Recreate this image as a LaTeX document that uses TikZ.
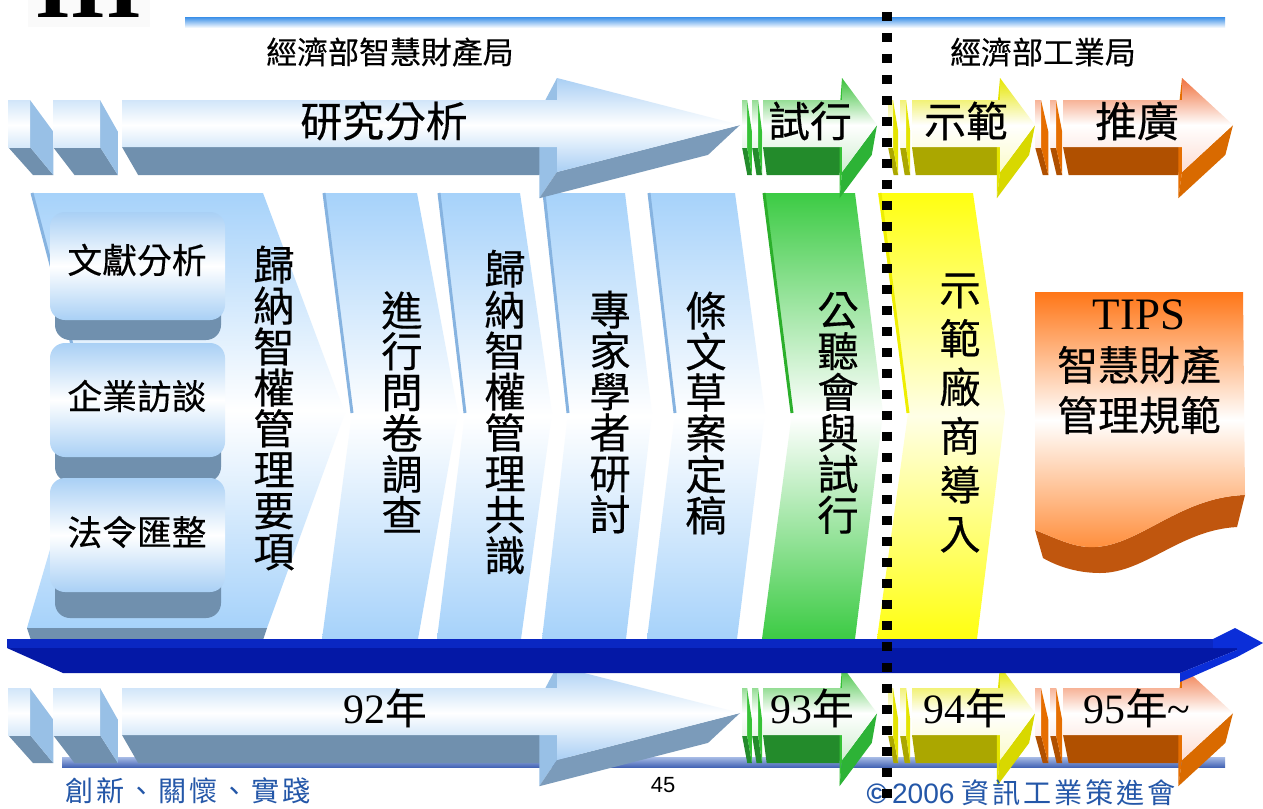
\documentclass[tikz,border=0pt]{standalone}
\usepackage{fontspec}
\setmainfont{Liberation Serif}
\newfontfamily\cjk{Noto Sans CJK TC}[FakeBold=0.35]
\newfontfamily\cjkspaced{Noto Sans CJK TC}[LetterSpace=10]
\newfontfamily\arialfont{Liberation Sans}
\usepackage{xcolor}
\usepackage{tikz}
\usetikzlibrary{calc}

\definecolor{skyblue}{HTML}{A9CFF4}
\definecolor{slate}{HTML}{7090AE}
\definecolor{slateside}{HTML}{98C0E6}
\definecolor{slatetip}{HTML}{7B9BBA}
\definecolor{leaf}{HTML}{38C038}
\definecolor{leafpale}{HTML}{D0EED0}
\definecolor{leafdark}{HTML}{238B2B}
\definecolor{leafside}{HTML}{36C236}
\definecolor{leaftip}{HTML}{2DB336}
\definecolor{lemon}{HTML}{E6E600}
\definecolor{lemonpale}{HTML}{FBFBC8}
\definecolor{lemondark}{HTML}{ABA700}
\definecolor{lemonside}{HTML}{E4E400}
\definecolor{lemontip}{HTML}{D8D800}
\definecolor{coral}{HTML}{F0703C}
\definecolor{coralpale}{HTML}{FDDCD2}
\definecolor{coraldark}{HTML}{B05000}
\definecolor{coralside}{HTML}{E66E00}
\definecolor{coraltip}{HTML}{D96A00}
\definecolor{chevsky}{HTML}{A6D2FA}
\definecolor{chevleaf}{HTML}{3CCB44}
\definecolor{chevlemon}{HTML}{FFFF10}
\definecolor{lemonwhite}{HTML}{FFFFE6}
\definecolor{boxsky}{HTML}{A9D0F5}
\definecolor{edgeblue}{HTML}{86B3E0}
\definecolor{edgegreen}{HTML}{2BAF2B}
\definecolor{edgeyellow}{HTML}{EEEE00}
\definecolor{tipsorange}{HTML}{FF7617}
\definecolor{tipsorangeb}{HTML}{FF8E3C}
\definecolor{tipsdark}{HTML}{C0560E}
\definecolor{bardark}{HTML}{0418A6}
\definecolor{barmid}{HTML}{0A27C2}
\definecolor{barbright}{HTML}{0B2ED8}
\definecolor{rulblue}{HTML}{3A8FE8}
\definecolor{footblue}{HTML}{4565B5}
\definecolor{footlight}{HTML}{A8BCE6}
\definecolor{mottoblue}{HTML}{2457A8}

\tikzset{
  bluefront/.style={top color=skyblue, bottom color=skyblue, middle color=white},
  bluedark/.style={fill=slate},
  blueside/.style={fill=slateside},
  bluetip/.style={fill=slatetip},
  greenfront/.style={top color=leaf, bottom color=leafpale, middle color=white},
  greendark/.style={fill=leafdark},
  greenside/.style={fill=leafside},
  greentip/.style={fill=leaftip},
  yellowfront/.style={top color=lemon, bottom color=lemonpale, middle color=white},
  yellowdark/.style={fill=lemondark},
  yellowside/.style={fill=lemonside},
  yellowtip/.style={fill=lemontip},
  orangefront/.style={top color=coral, bottom color=coralpale, middle color=white},
  orangedark/.style={fill=coraldark},
  orangeside/.style={fill=coralside},
  orangetip/.style={fill=coraltip},
  chevblue/.style={top color=chevsky, bottom color=chevsky, middle color=white},
  chevgreen/.style={top color=chevleaf, bottom color=chevleaf, middle color=white},
  chevyellow/.style={top color=chevlemon, bottom color=chevlemon, middle color=lemonwhite},
  chevedge/.style={line width=0.06cm},
  boxface/.style={rounded corners=0.3cm, top color=boxsky, bottom color=boxsky, middle color=white},
  boxdark/.style={rounded corners=0.3cm, fill=slate},
  vtext/.style={align=center, inner sep=0, font=\cjk\fontsize{23.5}{23.3}\selectfont},
  rowlabel/.style={inner sep=0, font=\cjk\fontsize{23.8}{24}\selectfont},
  agency/.style={inner sep=0, font=\cjk\fontsize{17.6}{18}\selectfont},
  boxlabel/.style={inner sep=0, font=\cjk\fontsize{19.8}{20}\selectfont},
}

% one slice of a 3D arrow: left x, right x, vanishing x, colour family
\newcommand{\slab}[4]{%
  \coordinate (vp) at (#3,508);
  \fill[#4dark] (#1,147) -- (#2,147) -- ($(#2,147)!0.078!(vp)$) -- ($(#1,147)!0.078!(vp)$) -- cycle;
  \fill[#4side] (#2,100) -- (#2,147) -- ($(#2,147)!0.078!(vp)$) -- ($(#2,100)!0.078!(vp)$) -- cycle;
  \begin{scope}
    \clip (#1,100) rectangle (#2,147);
    \shade[#4front] (#1,78) rectangle (#2,172);
  \end{scope}
}

% 3D arrow: left x, head x, tip x, vanishing x, colour family
\newcommand{\bigarrow}[5]{%
  \coordinate (vp) at (#4,508);
  \fill[#5dark] (#1,147) -- (#2,147) -- ($(#2,147)!0.078!(vp)$) -- ($(#1,147)!0.078!(vp)$) -- cycle;
  \fill[#5side] (#2,78) -- (#2,172) -- ($(#2,172)!0.078!(vp)$) -- ($(#2,78)!0.078!(vp)$) -- cycle;
  \fill[#5tip] (#2,172) -- (#3,125) -- ($(#3,125)!0.078!(vp)$) -- ($(#2,172)!0.078!(vp)$) -- cycle;
  \shade[#5front] (#1,100) -- (#2,100) -- (#2,78) -- (#3,125) -- (#2,172) -- (#2,147) -- (#1,147) -- cycle;
}

% the row of phase arrows
\newcommand{\arrowrow}{%
  \slab{8}{30}{330}{blue}
  \slab{53}{100}{330}{blue}
  \bigarrow{122}{557}{740}{330}{blue}
  \slab{742}{747}{810}{green}
  \slab{752}{758}{810}{green}
  \bigarrow{763}{842}{877}{810}{green}
  \slab{888}{893}{960}{yellow}
  \slab{900}{906}{960}{yellow}
  \bigarrow{912}{1000}{1035}{960}{yellow}
  \slab{1035}{1041}{1135}{orange}
  \slab{1050}{1056}{1135}{orange}
  \bigarrow{1063}{1182}{1233}{1135}{orange}
}

\begin{document}
\begin{tikzpicture}[x=0.02cm, y=-0.02cm]
\useasboundingbox (0,0) rectangle (1263,808);
\fill[white] (0,0) rectangle (1263,808);

% Corner numeral
\fill[black!2] (28,0) rectangle (150,27);
\node[anchor=base west, inner sep=0, font=\bfseries\fontsize{52}{52}\selectfont] (roman) at (35,17) {III};

% Top rule and agencies
\shade[top color=rulblue, bottom color=white] (185,17) rectangle (1225,28);
\node[agency] (ipo) at (390,52) {經濟部智慧財產局};
\node[agency] (idb) at (1043,52) {經濟部工業局};

% Process chevrons
\shade[chevblue] (32,193) -- (263,193) -- (345,413) -- (267,628) -- (27,628) -- (90,413) -- cycle;
\fill[slate] (27,628) -- (267,628) -- (263,640) -- (31,640) -- cycle;
\draw[chevedge, edgeblue] (32,193) -- (90,413);
\shade[chevblue] (323,193) -- (417,193) -- (458,413) -- (418,639) -- (322,639) -- (352,413) -- cycle;
\draw[chevedge, edgeblue] (324,193) -- (352,413);
\shade[chevblue] (438,193) -- (520,193) -- (552,413) -- (521,639) -- (437,639) -- (465,413) -- cycle;
\draw[chevedge, edgeblue] (439,193) -- (465,413);
\shade[chevblue] (543,193) -- (625,193) -- (652,413) -- (626,639) -- (542,639) -- (568,413) -- cycle;
\draw[chevedge, edgeblue] (544,193) -- (568,413);
\shade[chevblue] (648,193) -- (735,193) -- (765,413) -- (737,639) -- (647,639) -- (675,413) -- cycle;
\draw[chevedge, edgeblue] (649,193) -- (675,413);
\shade[chevgreen] (763,193) -- (855,193) -- (883,413) -- (855,639) -- (762,639) -- (792,413) -- cycle;
\draw[chevedge, edgegreen] (764,193) -- (792,413);
\shade[chevyellow] (878,193) -- (973,193) -- (1005,413) -- (977,639) -- (877,639) -- (908,413) -- cycle;
\draw[chevedge, edgeyellow] (880,193) -- (908,413);

% Source boxes
\fill[boxdark] (55,290) rectangle (221,340);
\shade[boxface] (50,212) rectangle (225,320);
\node[boxlabel] (lit) at (137,260) {文獻分析};
\fill[boxdark] (55,430) rectangle (221,482);
\shade[boxface] (50,343) rectangle (225,457);
\node[boxlabel] (visit) at (137,396) {企業訪談};
\fill[boxdark] (55,565) rectangle (221,618);
\shade[boxface] (50,478) rectangle (225,592);
\node[boxlabel] (law) at (137,532) {法令匯整};

% Step texts
\node[vtext] (items) at (274,408) {歸\\納\\智\\權\\管\\理\\要\\項};
\node[vtext] (survey) at (402,412) {進\\行\\問\\卷\\調\\查};
\node[vtext] (consensus) at (505,412) {歸\\納\\智\\權\\管\\理\\共\\識};
\node[vtext] (experts) at (610,412) {專\\家\\學\\者\\研\\討};
\node[vtext] (draft) at (706,413) {條\\文\\草\\案\\定\\稿};
\node[vtext] (hearing) at (838,413) {公\\聽\\會\\與\\試\\行};
\node[vtext, font=\cjk\fontsize{23.5}{27.8}\selectfont] (pilot) at (960,413) {示\\範\\廠\\商\\導\\入};

% TIPS document
\fill[tipsdark] (1035,530) .. controls (1060,540) and (1075,548) .. (1095,547) .. controls (1140,545) and (1180,497) .. (1245,495) -- (1237,527) .. controls (1180,530) and (1145,573) .. (1100,573) .. controls (1075,573) and (1055,565) .. (1043,558) -- cycle;
\shade[top color=tipsorange, bottom color=tipsorangeb, middle color=white] (1035,292) -- (1243,292) -- (1245,495) .. controls (1180,497) and (1140,545) .. (1095,547) .. controls (1075,548) and (1060,540) .. (1035,530) -- cycle;
\node[inner sep=0, font=\fontsize{25.6}{26}\selectfont] (tips) at (1139,315) {TIPS};
\node[inner sep=0, font=\cjk\fontsize{23.3}{24}\selectfont] (tipsA) at (1139,365) {智慧財產};
\node[inner sep=0, font=\cjk\fontsize{23.3}{24}\selectfont] (tipsB) at (1139,415) {管理規範};

% Phase arrows
\begin{scope}[name prefix=top-]
  \arrowrow
  \node[rowlabel] (study) at (384,121) {研究分析};
  \node[rowlabel] (trial) at (810,121) {試行};
  \node[rowlabel] (demo) at (966,121) {示範};
  \node[rowlabel] (spread) at (1137,121) {推廣};
\end{scope}

% Footer rule
\shade[top color=footlight, bottom color=footblue] (62,757) rectangle (1225,767);

% Year arrows
\begin{scope}[shift={(0,588)}, name prefix=low-]
  \arrowrow
  \node[rowlabel] (y92) at (385,120) {{\rmfamily 92}年};
  \node[rowlabel] (y93) at (812,120) {{\rmfamily 93}年};
  \node[rowlabel] (y94) at (965,120) {{\rmfamily 94}年};
  \node[rowlabel] (y95) at (1137,120) {{\rmfamily 95}年{\rmfamily\textasciitilde}};
\end{scope}

% Time axis
\fill[bardark] (7,639) -- (1237,639) -- (1237,650) -- (1180,673) -- (63,673) -- (7,648) -- cycle;
\fill[barmid] (7,639) -- (1213,639) -- (1213,648) -- (7,648) -- cycle;
\fill[barbright] (1213,639) -- (1235,628) -- (1263,643) -- (1237,657) -- (1180,682) -- (1180,673) -- (1237,650) -- (1237,648) -- (1213,648) -- cycle;

% Footer
\node[text=mottoblue, inner sep=0, font=\cjkspaced\fontsize{16}{16}\selectfont] (motto) at (188,791) {創新、關懷、實踐};
\node[inner sep=0, font=\arialfont\fontsize{12.5}{12.5}\selectfont] (page) at (663,785) {45};
\node[text=mottoblue, inner sep=0, font=\fontsize{16}{16}\selectfont] (copy) at (1021,793) {{\arialfont\bfseries ©}\,{\arialfont 2006} {\cjkspaced 資訊工業策進會}};

% Agency boundary
\draw[line width=0.2cm, dash pattern=on 0.18cm off 0.24cm] (887,12) -- (887,808);
\end{tikzpicture}
\end{document}
